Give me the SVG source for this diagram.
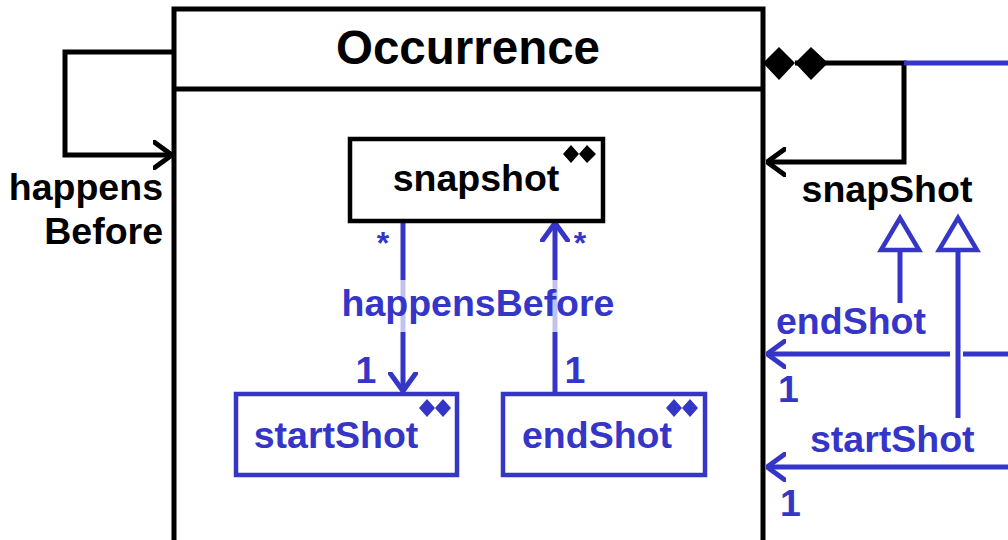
<svg xmlns="http://www.w3.org/2000/svg" width="1008" height="540" viewBox="0 0 1008 540">
<style>
text{font-family:"Liberation Sans",Arial,sans-serif;font-weight:bold;font-size:37.5px}
.k{fill:#000}
.b{fill:#3535C8}
.lk{fill:none;stroke:#000;stroke-width:5}
.lb{fill:none;stroke:#3535C8;stroke-width:5}
</style>
<defs>
<marker id="openK" viewBox="0 0 20 30" refX="19" refY="15" markerWidth="20" markerHeight="30" markerUnits="userSpaceOnUse" orient="auto">
<path d="M1,2 L19,15 L1,28" fill="none" stroke="#000" stroke-width="5" stroke-linecap="round" stroke-linejoin="miter"/>
</marker>
<marker id="openB" viewBox="0 0 20 30" refX="19" refY="15" markerWidth="20" markerHeight="30" markerUnits="userSpaceOnUse" orient="auto">
<path d="M1,2 L19,15 L1,28" fill="none" stroke="#3535C8" stroke-width="5" stroke-linecap="round" stroke-linejoin="miter"/>
</marker>
</defs>
<rect width="1008" height="540" fill="#fff"/>

<g id="occurrence">
<rect x="174" y="9" width="589" height="540" fill="#fff" stroke="#000" stroke-width="5"/>
<line x1="174" y1="89" x2="763" y2="89" stroke="#000" stroke-width="5"/>
<text class="k" x="468" y="64" text-anchor="middle" style="font-size:47.5px">Occurrence</text>
</g>

<g id="connectors">
<path class="lk" d="M174,52 L65,52 L65,155 L172,155" marker-end="url(#openK)"/>
<path class="lk" d="M795,63 L904,63 L904,162 L767,162" marker-end="url(#openK)"/>
<line x1="904" y1="63" x2="1008" y2="63" stroke="#3535C8" stroke-width="5"/>
<path d="M763,63 L779,47 L795,63 L811,47 L828,63 L811,80 L795,63 L779,80 Z" fill="#000"/>
<line x1="900" y1="250" x2="900" y2="303" class="lb"/>
<polygon points="900,218 881,250 919,250" fill="#fff" stroke="#3535C8" stroke-width="4.5"/>
<line x1="958" y1="250" x2="958" y2="418" class="lb"/>
<polygon points="958,218 939,250 977,250" fill="#fff" stroke="#3535C8" stroke-width="4.5"/>
<path class="lb" d="M950,354 L767,354" marker-end="url(#openB)"/>
<line x1="963" y1="354" x2="1008" y2="354" class="lb"/>
<path class="lb" d="M1008,467 L767,467" marker-end="url(#openB)"/>
<path class="lb" d="M403,221 L403,391" marker-end="url(#openB)"/>
<path class="lb" d="M555,393 L555,223" marker-end="url(#openB)"/>
<rect x="340" y="280" width="280" height="52" fill="#fff" fill-opacity="0.7"/>
</g>

<g id="labels">
<text class="k" x="163" y="200" text-anchor="end">happens</text>
<text class="k" x="163" y="244" text-anchor="end">Before</text>
<text class="k" x="887" y="202" text-anchor="middle">snapShot</text>
<text class="b" x="776" y="334">endShot</text>
<text class="b" x="778" y="402">1</text>
<text class="b" x="810" y="452">startShot</text>
<text class="b" x="780" y="516">1</text>
<text class="b" x="478" y="316" text-anchor="middle">happensBefore</text>
<text class="b" x="383" y="254" text-anchor="middle" style="font-size:32px">*</text>
<text class="b" x="580" y="254" text-anchor="middle" style="font-size:32px">*</text>
<text class="b" x="366" y="383" text-anchor="middle">1</text>
<text class="b" x="575" y="383" text-anchor="middle">1</text>
</g>

<g id="snapshot">
<rect x="350" y="139" width="253" height="82" fill="#fff" stroke="#000" stroke-width="4.5"/>
<text class="k" x="476" y="191" text-anchor="middle">snapshot</text>
<path d="M563,154 L571,145 L579,154 L587,145 L596,154 L587,163 L579,154 L571,163 Z" fill="#000"/>
</g>

<g id="startShot">
<rect x="236" y="394" width="221" height="81" fill="#fff" stroke="#3535C8" stroke-width="4.5"/>
<text class="b" x="336" y="448" text-anchor="middle">startShot</text>
<path d="M419,408 L427,399 L435,408 L443,399 L451,408 L443,417 L435,408 L427,417 Z" fill="#3535C8"/>
</g>

<g id="endShot">
<rect x="503" y="394" width="202" height="81" fill="#fff" stroke="#3535C8" stroke-width="4.5"/>
<text class="b" x="597" y="448" text-anchor="middle">endShot</text>
<path d="M666,408 L674,399 L682,408 L690,399 L698,408 L690,417 L682,408 L674,417 Z" fill="#3535C8"/>
</g>
</svg>
